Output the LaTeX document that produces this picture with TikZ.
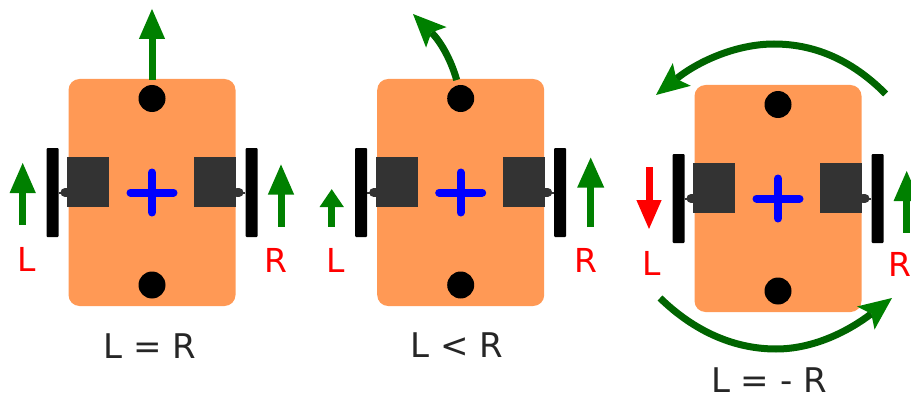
\documentclass[tikz,border=0pt]{standalone}
\usepackage{fontspec}
\setmainfont{DejaVu Sans}
\usetikzlibrary{arrows.meta}
\definecolor{bodyc}{HTML}{FF9955}
\definecolor{motorc}{HTML}{333333}
\definecolor{arrowg}{HTML}{008000}
\definecolor{curveg}{HTML}{006400}
\definecolor{plusb}{HTML}{0000FF}
\definecolor{labr}{HTML}{FF0000}
\definecolor{capt}{HTML}{262626}
\tikzset{
  x=1pt,y=-1pt,
  bodybox/.style={fill=bodyc,rounded corners=11pt,minimum width=167pt,minimum height=227pt,inner sep=0pt},
  motorbox/.style={fill=motorc,minimum width=42pt,minimum height=50pt,inner sep=0pt},
  wheelbox/.style={fill=black,rounded corners=1pt,minimum width=12pt,minimum height=89pt,inner sep=0pt},
  caster/.style={circle,fill=black,minimum size=27pt,inner sep=0pt},
  plusline/.style={draw=plusb,line width=8pt,line cap=round},
  axle/.style={draw=motorc,line width=2pt},
  stub/.style={draw=motorc,line width=9pt,line cap=round},
  straightarrow/.style={draw=arrowg,line width=7pt,-{Triangle[width=#1,length=31pt]}},
  straightarrow/.default=24pt,
  shortarrow/.style={draw=arrowg,line width=7pt,-{Triangle[width=23pt,length=18pt]}},
  redarrow/.style={draw=labr,line width=7pt,-{Triangle[width=23pt,length=30pt]}},
  curvearrow/.style={draw=curveg,line width=7pt,-{Stealth[width=29pt,length=33pt,inset=7pt,color=arrowg,fill=arrowg,line width=0pt]}},
  lab/.style={text=labr,font=\fontsize{33}{33}\selectfont,anchor=base,inner sep=0pt},
  captext/.style={text=capt,font=\fontsize{34}{34}\selectfont,anchor=base,inner sep=0pt}
}
% prefix, centre x, centre y
\newcommand{\robotdraw}[3]{%
  \node[bodybox] (#1body) at (#2,#3) {};
  \draw[stub] (#2-87,#3) -- (#2-85,#3);
  \draw[stub] (#2+85,#3) -- (#2+87,#3);
  \node[wheelbox] (#1wl) at (#2-99.5,#3) {};
  \node[wheelbox] (#1wr) at (#2+99.5,#3) {};
  \node[motorbox] (#1ml) at (#2-64,#3-10.5) {};
  \node[motorbox] (#1mr) at (#2+63,#3-10.5) {};
  \draw[axle] (#1wl.east) -- (#1ml.west |- #1wl.east);
  \draw[axle] (#1wr.west) -- (#1mr.east |- #1wr.west);
  \node[caster] (#1ct) at (#2,#3-94) {};
  \node[caster] (#1cb) at (#2,#3+92.5) {};
  \coordinate (#1pl) at (#2-21.5,#3);
  \coordinate (#1pr) at (#2+21.5,#3);
  \coordinate (#1pt) at (#2,#3-20);
  \coordinate (#1pb) at (#2,#3+20);
  \draw[plusline] (#1pl) -- (#1pr);
  \draw[plusline] (#1pt) -- (#1pb);
}
\begin{document}
\begin{tikzpicture}
\useasboundingbox (0,0) rectangle (911,396);
\clip (0,0) rectangle (911,396);
\robotdraw{a}{152}{192.5}
\robotdraw{b}{460.7}{192.5}
\robotdraw{c}{778}{198.5}

% robot 1
\coordinate (a1) at (152,80);
\coordinate (a2) at (152,8);
\draw[straightarrow] (a1) -- (a2);
\coordinate (a3) at (22.7,225);
\coordinate (a4) at (22.7,162);
\draw[straightarrow] (a3) -- (a4);
\coordinate (a5) at (281,226.7);
\coordinate (a6) at (281,163.5);
\draw[straightarrow] (a5) -- (a6);
\node[lab] (aL) at (26.5,271.7) {L};
\node[lab] (aR) at (275.7,272.7) {R};
\node[captext] (aC) at (150,358.3) {L = R};

% robot 2
\coordinate (b1) at (456.7,80);
\coordinate (b2) at (413,14);
\draw[curvearrow] (b1) .. controls (451,60) and (441,42) .. (b2);
\coordinate (b3) at (331.7,226.7);
\coordinate (b4) at (331.7,189);
\draw[shortarrow] (b3) -- (b4);
\coordinate (b5) at (590.7,227);
\coordinate (b6) at (590.7,156.7);
\draw[straightarrow=25pt] (b5) -- (b6);
\node[lab] (bL) at (335.7,272) {L};
\node[lab] (bR) at (585.7,272.7) {R};
\node[captext] (bC) at (456.7,357) {L < R};

% robot 3
\coordinate (c1) at (885.7,94);
\coordinate (c2) at (656,95);
\draw[curvearrow] (c1) .. controls (850,58) and (812,44) .. (774,44) .. controls (738,44) and (700,60) .. (c2);
\coordinate (c3) at (660,298);
\coordinate (c4) at (892,298);
\draw[curvearrow] (c3) .. controls (695,332) and (735,349) .. (776,349) .. controls (815,349) and (850,330) .. (c4);
\coordinate (c5) at (649,167);
\coordinate (c6) at (649,230);
\draw[redarrow] (c5) -- (c6);
\coordinate (c7) at (906.7,232.7);
\coordinate (c8) at (906.7,170);
\draw[straightarrow] (c7) -- (c8);
\node[lab] (cL) at (652,275) {L};
\node[lab] (cR) at (900,276.7) {R};
\node[captext] (cC) at (769,392.5) {L = - R};
\end{tikzpicture}
\end{document}
